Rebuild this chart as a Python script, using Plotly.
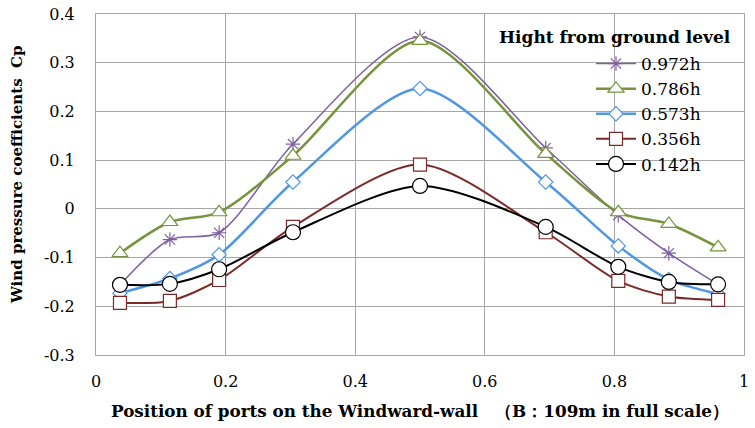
import plotly.graph_objects as go

x_pos = [0.037, 0.114, 0.19, 0.304, 0.5, 0.694, 0.806, 0.884, 0.96]

cp_0972 = [-0.156, -0.063, -0.049, 0.133, 0.353, 0.125, -0.013, -0.091, -0.155]
cp_0786 = [-0.091, -0.027, -0.007, 0.109, 0.345, 0.113, -0.007, -0.031, -0.079]
cp_0573 = [-0.173, -0.143, -0.094, 0.055, 0.247, 0.055, -0.076, -0.145, -0.175]
cp_0356 = [-0.193, -0.189, -0.146, -0.037, 0.091, -0.048, -0.148, -0.180, -0.187]
cp_0142 = [-0.156, -0.154, -0.124, -0.048, 0.047, -0.037, -0.119, -0.150, -0.155]

series_names = ["0.972h", "0.786h", "0.573h", "0.356h", "0.142h"]
y_ticks = [-0.3, -0.2, -0.1, 0, 0.1, 0.2, 0.3, 0.4]
y_ticklabels = ["-0.3", "-0.2", "-0.1", "0", "0.1", "0.2", "0.3", "0.4"]
x_ticks = [0, 0.2, 0.4, 0.6, 0.8, 1]
x_ticklabels = ["0", "0.2", "0.4", "0.6", "0.8", "1"]

serif = "DejaVu Serif, Liberation Serif, serif"

W, H = 755, 428
L, R, T, B = 96, 11, 14, 73
pw, ph = W - L - R, H - T - B


def px(xp):
    return (xp - L) / pw


def py(yp):
    return 1 - (yp - T) / ph


# colour, line width, marker symbol, marker size
styles = [
    ("#7D60A0", 1.5, "asterisk-open", 12),
    ("#77933C", 2.5, "triangle-up", 14),
    ("#4F97E0", 2.5, "diamond", 11),
    ("#7A2A28", 2.0, "square", 13),
    ("#000000", 2.0, "circle", 15),
]

fig = go.Figure()
for name, ys, (col, lw, sym, sz) in zip(series_names, [cp_0972, cp_0786, cp_0573, cp_0356, cp_0142], styles):
    if sym == "asterisk-open":
        mk = dict(symbol=sym, size=sz, color=col, line=dict(color=col, width=1.2))
    else:
        mk = dict(symbol=sym, size=sz, color="white", line=dict(color=col, width=1.2))
    fig.add_trace(go.Scatter(
        x=x_pos, y=ys, name=name, mode="lines+markers",
        line=dict(color=col, width=lw, shape="spline", smoothing=0.8),
        marker=mk,
    ))

# legend title
fig.add_annotation(
    x=px(733), y=py(37), xref="paper", yref="paper", xanchor="right", yanchor="middle",
    text="<b>Hight from ground level</b>", showarrow=False,
    font=dict(family=serif, size=17, color="black"),
)
# axis titles
fig.add_annotation(
    x=px(420), y=py(411), xref="paper", yref="paper", xanchor="center", yanchor="middle",
    text="<b>Position of ports on the Windward-wall　（B：109m in full scale）</b>",
    showarrow=False, font=dict(family=serif, size=16.8, color="black"),
)
fig.add_annotation(
    x=px(17), y=py(175), xref="paper", yref="paper", xanchor="center", yanchor="middle",
    text="<b>Wind pressure coefficients  Cp</b>", textangle=-90,
    showarrow=False, font=dict(family=serif, size=15, color="black"),
)

fig.update_layout(
    width=W, height=H,
    margin=dict(l=L, r=R, t=T, b=B, autoexpand=False),
    paper_bgcolor="white", plot_bgcolor="white",
    font=dict(family=serif, size=15, color="black"),
    showlegend=True,
    legend=dict(
        x=px(591), y=py(46), xanchor="left", yanchor="top",
        bgcolor="rgba(0,0,0,0)", font=dict(family=serif, size=17),
        itemwidth=40, tracegroupgap=0,
    ),
    xaxis=dict(
        range=[0, 1], tickvals=x_ticks, ticktext=x_ticklabels,
        showgrid=True, gridcolor="#A6A6A6", gridwidth=1,
        zeroline=False, showline=True, linecolor="#A6A6A6", mirror=True,
        ticks="", ticklabelstandoff=12, automargin=False, ticklabeloverflow="allow",
        tickfont=dict(family=serif, size=16),
    ),
    yaxis=dict(
        range=[-0.3, 0.4], tickvals=y_ticks, ticktext=y_ticklabels,
        showgrid=True, gridcolor="#A6A6A6", gridwidth=1,
        zeroline=False, showline=True, linecolor="#A6A6A6", mirror=True,
        ticks="", ticklabelstandoff=17, automargin=False, ticklabeloverflow="allow",
        tickfont=dict(family=serif, size=16),
    ),
)

# drop the default page margin so the figure sits at the window's corner
fig.write_html("out.html", config={"displayModeBar": False},
               post_script="document.body.style.margin='0';")
